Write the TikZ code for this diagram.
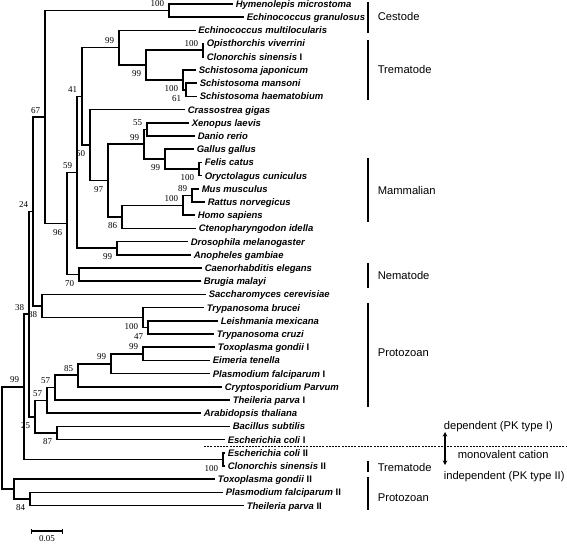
\documentclass[tikz,border=0pt]{standalone}
\usepackage{fontspec}
\setmainfont{Liberation Sans}
\newfontfamily\bootfont{Liberation Serif}
\usetikzlibrary{arrows.meta}
\begin{document}
\begin{tikzpicture}[x=1pt, y=-1pt, line width=1.6pt,
  tip/.style = {anchor=west, inner xsep=2pt, inner ysep=0pt, text height=6.8pt, text depth=0pt, font=\fontsize{9.5}{11}\selectfont\bfseries\itshape},
  bootup/.style = {anchor=south east, inner sep=0pt, xshift=-4pt, yshift=3pt, font=\bootfont\fontsize{9}{10}\selectfont},
  bootdn/.style = {anchor=north east, inner sep=0pt, xshift=-4pt, yshift=-5pt, font=\bootfont\fontsize{9}{10}\selectfont},
  group/.style = {anchor=west, inner sep=0pt, text height=8pt, text depth=0pt, font=\fontsize{11.2}{13}\selectfont},
  bar/.style = {line width=1.4pt}]
\useasboundingbox (0,0) rectangle (567,543);

\node[tip] (hym) at (233,4.0) {Hymenolepis microstoma};
\node[tip] (egr) at (244,17.2) {Echinococcus granulosus};
\node[tip] (emu) at (195.5,30.4) {Echinococcus multilocularis};
\node[tip] (opi) at (204,43.6) {Opisthorchis viverrini};
\node[tip] (cls1) at (204,56.8) {Clonorchis sinensis {\upshape I}};
\node[tip] (sja) at (196,70.0) {Schistosoma japonicum};
\node[tip] (sma) at (197,83.2) {Schistosoma mansoni};
\node[tip] (sha) at (197,96.4) {Schistosoma haematobium};
\node[tip] (cgi) at (185,109.6) {Crassostrea gigas};
\node[tip] (xla) at (189,122.8) {Xenopus laevis};
\node[tip] (dre) at (195,136.0) {Danio rerio};
\node[tip] (gga) at (194,149.2) {Gallus gallus};
\node[tip] (fca) at (202,162.4) {Felis catus};
\node[tip] (ocu) at (202,175.6) {Oryctolagus cuniculus};
\node[tip] (mmu) at (199,188.8) {Mus musculus};
\node[tip] (rno) at (205,202.0) {Rattus norvegicus};
\node[tip] (hsa) at (195,215.2) {Homo sapiens};
\node[tip] (cid) at (196,228.4) {Ctenopharyngodon idella};
\node[tip] (dme) at (188,241.6) {Drosophila melanogaster};
\node[tip] (aga) at (191,254.8) {Anopheles gambiae};
\node[tip] (cel) at (202,268.0) {Caenorhabditis elegans};
\node[tip] (bma) at (201,281.2) {Brugia malayi};
\node[tip] (sce) at (206,294.4) {Saccharomyces cerevisiae};
\node[tip] (tbr) at (204,307.6) {Trypanosoma brucei};
\node[tip] (lme) at (218,320.8) {Leishmania mexicana};
\node[tip] (tcr) at (214,334.0) {Trypanosoma cruzi};
\node[tip] (tgo1) at (215,347.2) {Toxoplasma gondii {\upshape I}};
\node[tip] (ete) at (210,360.4) {Eimeria tenella};
\node[tip] (pfa1) at (210,373.6) {Plasmodium falciparum {\upshape I}};
\node[tip] (cpa) at (222,386.8) {Cryptosporidium Parvum};
\node[tip] (tpa1) at (230,400.0) {Theileria parva {\upshape I}};
\node[tip] (ath) at (201,413.2) {Arabidopsis thaliana};
\node[tip] (bsu) at (230,426.4) {Bacillus subtilis};
\node[tip] (eco1) at (225,439.6) {Escherichia coli {\upshape I}};
\node[tip] (eco2) at (225,452.8) {Escherichia coli {\upshape II}};
\node[tip] (cls2) at (225,466.0) {Clonorchis sinensis {\upshape II}};
\node[tip] (tgo2) at (215,479.2) {Toxoplasma gondii {\upshape II}};
\node[tip] (pfa2) at (223,492.4) {Plasmodium falciparum {\upshape II}};
\node[tip] (tpa2) at (244,505.6) {Theileria parva {\upshape II}};

\coordinate (root) at (2,437.9);
\coordinate (n99r) at (24,386.75);
\coordinate (n38) at (29,314.1);
\coordinate (n24) at (33,211.5);
\coordinate (n67) at (45,117.0);
\coordinate (nces) at (169,10.6);
\coordinate (n96) at (67,223.45);
\coordinate (n59) at (77,172.3);
\coordinate (n41) at (82,96.4);
\coordinate (n99a) at (119,47.7);
\coordinate (n99b) at (146,65.05);
\coordinate (nopi) at (203,50.2);
\coordinate (nsch) at (183,79.9);
\coordinate (nsm) at (186,89.8);
\coordinate (n50) at (90,145.1);
\coordinate (n97) at (108,180.55);
\coordinate (n99x) at (144,144.25);
\coordinate (n55) at (147,129.4);
\coordinate (n99g) at (165,159.1);
\coordinate (nfel) at (199,169.0);
\coordinate (n86) at (122,216.85);
\coordinate (nhom) at (183,205.3);
\coordinate (n89) at (192,195.4);
\coordinate (n99d) at (117,248.2);
\coordinate (n70) at (79,274.6);
\coordinate (n88) at (42,305.95);
\coordinate (ntr) at (143,317.5);
\coordinate (n47) at (148,327.4);
\coordinate (n25) at (35,416.7);
\coordinate (n57a) at (47,400.4);
\coordinate (n57b) at (55,387.6);
\coordinate (n85) at (78,375.25);
\coordinate (n99t) at (111,363.7);
\coordinate (n99e) at (143,353.8);
\coordinate (n87) at (57,433.0);
\coordinate (necl) at (223,459.4);
\coordinate (n84) at (14,489.1);
\coordinate (npl) at (30,499.0);

\draw (root) |- (n99r); \draw (root) |- (n84);
\draw (n99r) |- (n38); \draw (n99r) |- (necl);
\draw (n38) |- (n24); \draw (n38) |- (n25);
\draw (n24) |- (n67); \draw (n24) |- (n88);
\draw (n67) |- (nces); \draw (n67) |- (n96);
\draw (nces) |- (hym); \draw (nces) |- (egr);
\draw (n96) |- (n59); \draw (n96) |- (n70);
\draw (n59) |- (n41); \draw (n59) |- (n99d);
\draw (n41) |- (n99a); \draw (n41) |- (n50);
\draw (n99a) |- (emu); \draw (n99a) |- (n99b);
\draw (n99b) |- (nopi); \draw (n99b) |- (nsch);
\draw (nopi) |- (opi); \draw (nopi) |- (cls1);
\draw (nsch) |- (sja); \draw (nsch) |- (nsm);
\draw (nsm) |- (sma); \draw (nsm) |- (sha);
\draw (n50) |- (cgi); \draw (n50) |- (n97);
\draw (n97) |- (n99x); \draw (n97) |- (n86);
\draw (n99x) |- (n55); \draw (n99x) |- (n99g);
\draw (n55) |- (xla); \draw (n55) |- (dre);
\draw (n99g) |- (gga); \draw (n99g) |- (nfel);
\draw (nfel) |- (fca); \draw (nfel) |- (ocu);
\draw (n86) |- (nhom); \draw (n86) |- (cid);
\draw (nhom) |- (n89); \draw (nhom) |- (hsa);
\draw (n89) |- (mmu); \draw (n89) |- (rno);
\draw (n99d) |- (dme); \draw (n99d) |- (aga);
\draw (n70) |- (cel); \draw (n70) |- (bma);
\draw (n88) |- (sce); \draw (n88) |- (ntr);
\draw (ntr) |- (tbr); \draw (ntr) |- (n47);
\draw (n47) |- (lme); \draw (n47) |- (tcr);
\draw (n25) |- (n57a); \draw (n25) |- (n87);
\draw (n57a) |- (n57b); \draw (n57a) |- (ath);
\draw (n57b) |- (n85); \draw (n57b) |- (tpa1);
\draw (n85) |- (n99t); \draw (n85) |- (cpa);
\draw (n99t) |- (n99e); \draw (n99t) |- (pfa1);
\draw (n99e) |- (tgo1); \draw (n99e) |- (ete);
\draw (n87) |- (bsu); \draw (n87) |- (eco1);
\draw (necl) |- (eco2); \draw (necl) |- (cls2);
\draw (n84) |- (tgo2); \draw (n84) |- (npl);
\draw (npl) |- (pfa2); \draw (npl) |- (tpa2);

\node[bootup] (bces) at (nces) {100};
\node[bootup] (b99a) at (n99a) {99};
\node[bootdn] (b99b) at (n99b) {99};
\node[bootup] (bopi) at (nopi) {100};
\node[bootdn] (bsch) at (nsch) {100};
\node[bootdn] (bsm) at (nsm) {61};
\node[bootup] (b41) at (n41) {41};
\node[bootdn] (b50) at (n50) {50};
\node[bootdn] (b97) at (n97) {97};
\node[bootup] (b55) at (n55) {55};
\node[bootup] (b99x) at (n99x) {99};
\node[bootdn] (b99g) at (n99g) {99};
\node[bootdn] (bfel) at (nfel) {100};
\node[bootup] (b89) at (n89) {89};
\node[bootup] (bhom) at (nhom) {100};
\node[bootdn] (b86) at (n86) {86};
\node[bootup] (b59) at (n59) {59};
\node[bootdn] (b99d) at (n99d) {99};
\node[bootdn] (b96) at (n96) {96};
\node[bootdn] (b70) at (n70) {70};
\node[bootup] (b67) at (n67) {67};
\node[bootup] (b24) at (n24) {24};
\node[bootdn] (b88) at (n88) {88};
\node[bootdn] (btr) at (ntr) {100};
\node[bootdn] (b47) at (n47) {47};
\node[bootup] (b99e) at (n99e) {99};
\node[bootup] (b99t) at (n99t) {99};
\node[bootup] (b85) at (n85) {85};
\node[bootup] (b57b) at (n57b) {57};
\node[bootup] (b57a) at (n57a) {57};
\node[bootdn] (b25) at (n25) {25};
\node[bootdn] (b87) at (n87) {87};
\node[bootup] (b38) at (n38) {38};
\node[bootup] (b99r) at (n99r) {99};
\node[bootdn] (becl) at (necl) {100};
\node[bootdn] (bpl) at (npl) {84};

\draw[bar] (368,2) -- (368,33);
\node[group] (ces) at (377,17) {Cestode};
\draw[bar] (368,40) -- (368,100);
\node[group] (tre1) at (377,70) {Trematode};
\draw[bar] (368,158) -- (368,222);
\node[group] (mam) at (377,190) {Mammalian};
\draw[bar] (368,263) -- (368,288);
\node[group] (nem) at (377,275) {Nematode};
\draw[bar] (368,303) -- (368,407);
\node[group] (pro1) at (377,352) {Protozoan};
\draw[bar] (368,461) -- (368,472);
\node[group] (tre2) at (377,467) {Trematode};
\draw[bar] (368,477) -- (368,510);
\node[group] (pro2) at (377,497) {Protozoan};

\coordinate (dl) at (204,446);
\coordinate (dr) at (567,446);
\draw[line width=0.7pt, dash pattern=on 2pt off 1.2pt] (dl) -- (dr);
\coordinate (at) at (445,432);
\coordinate (ab) at (445,465);
\draw[line width=1.1pt, {Stealth[length=4.5pt,width=4.5pt]}-{Stealth[length=4.5pt,width=4.5pt]}] (at) -- (ab);
\node[group] (dep) at (443,425) {dependent (PK type I)};
\node[group] (mon) at (457,454) {monovalent cation};
\node[group] (ind) at (443,475) {independent (PK type II)};

\coordinate (sbl) at (31,531);
\coordinate (sbr) at (63,531);
\draw[line width=1.4pt, {Bar[width=5pt]}-{Bar[width=5pt]}] (sbl) -- (sbr);
\node[anchor=north, inner sep=0pt, font=\bootfont\fontsize{9}{10}\selectfont] (sb) at (47,534.5) {0.05};
\end{tikzpicture}
\end{document}
